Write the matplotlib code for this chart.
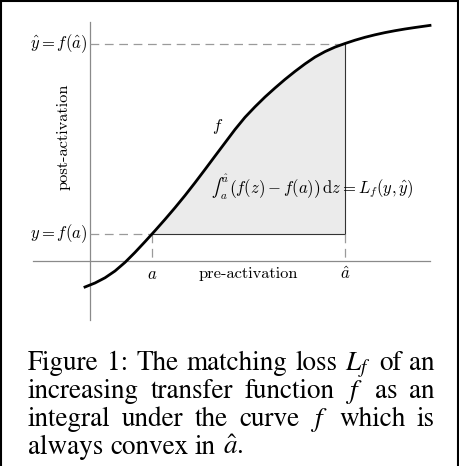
import matplotlib.pyplot as plt
from matplotlib.lines import Line2D

# curve f, origin where the two axes cross
pre = [-5, 5, 15, 25, 35, 45, 55, 62, 65, 75, 85, 95, 105, 115, 125, 135,
       145, 155, 165, 175, 185, 195, 205, 215, 225, 235, 245, 255, 265, 275,
       285, 295, 305, 315, 325, 340]
post = [-26, -22, -16.8, -10, -1.4, 8.6, 19.3, 27, 30.3, 41.6, 53.3, 65.5,
        78.3, 91.5, 104.9, 118.2, 131.5, 143.7, 154.2, 164, 173, 181.6, 189.6,
        197.1, 203.9, 209.4, 213.9, 217.5, 220.8, 223.7, 226.2, 228.4, 230.3,
        232, 233.5, 235.6]
a, a_hat = 62, 255
y_a, y_hat = 27, 217.5
x_axis = [-57, 340]
y_axis = [-59, 239]

caption = [
    ['Figure', '1:', 'The', 'matching', 'loss', '$L_f$', 'of', 'an'],
    ['increasing', 'transfer', 'function', '$f$', 'as', 'an'],
    ['integral', 'under', 'the', 'curve', '$f$', 'which', 'is'],
    ['always', 'convex', 'in', r'$\hat{a}$.'],
]

fig = plt.figure(figsize=(4.6, 4.66), dpi=100)
ax = fig.add_axes([0, 0, 1, 1])
ax.set_xlim(-90, 370)
ax.set_ylim(-205, 261)
ax.axis('off')

# axes of the sketch
ax.plot(x_axis, [0, 0], color='#8a8a8a', lw=0.9)
ax.plot([0, 0], y_axis, color='#8a8a8a', lw=0.9)

# shaded area between f and f(a)
xs = [x for x in pre if a <= x <= a_hat]
ys = [y for x, y in zip(pre, post) if a <= x <= a_hat]
ax.fill_between(xs, ys, y_a, color='#ebebeb', lw=0)
ax.plot([a, a_hat, a_hat], [y_a, y_a, y_hat], color='#333333', lw=0.8)

# dashed guides
dash = dict(color='#9a9a9a', lw=0.9, dashes=(7, 4.5))
ax.plot([0, a_hat], [y_hat, y_hat], **dash)
ax.plot([0, a], [y_a, y_a], **dash)
ax.plot([a, a], [y_a, 0], **dash)
ax.plot([a_hat, a_hat], [y_a, 0], **dash)

ax.plot(pre, post, color='black', lw=2, solid_joinstyle='round')

m = dict(math_fontfamily='cm', fontsize=12)
ax.text(-3, y_hat, r'$\hat{y} = f(\hat{a})$', ha='right', va='center', **m)
ax.text(-3, y_a, r'$y = f(a)$', ha='right', va='center', **m)
ax.text(a, -18, r'$a$', ha='center', va='baseline', **m)
ax.text(a_hat, -18, r'$\hat{a}$', ha='center', va='baseline', **m)
ax.text(128, 134, r'$f$', ha='center', va='center', **m)

# small (text style) integral built from pieces
ax.text(121, 73, '\u222b', family='STIXGeneral', fontsize=13,
        ha='left', va='center')
ax.text(131, 82, r'$\hat{a}$', ha='left', va='center',
        math_fontfamily='cm', fontsize=8)
ax.text(130, 65, r'$a$', ha='left', va='center',
        math_fontfamily='cm', fontsize=8)
ax.text(139, 73, r'$\left(f(z) - f(a)\right)\,\mathrm{d}z = L_f(y, \hat{y})$',
        ha='left', va='center', **m)

ax.text(158, -17, 'pre-activation', family='cmr10', fontsize=11.8,
        ha='center', va='baseline')
ax.text(-26, 124, 'post-activation', family='cmr10', fontsize=11.8,
        rotation=90, ha='center', va='center')

# caption, justified like the LaTeX source
fig.canvas.draw()
r = fig.canvas.get_renderer()
fs = 19.5
cap = dict(family='STIXGeneral', math_fontfamily='stix', fontsize=fs,
           va='baseline', clip_on=False)
left, width = -62, 407
for i, words in enumerate(caption):
    base = 261 - (370 + 28 * i)
    ts = [ax.text(0, base, w, **cap) for w in words]
    ws = [t.get_window_extent(r).width for t in ts]
    if i < len(caption) - 1:
        gap = (width - sum(ws)) / (len(words) - 1)
    else:
        gap = fs * 100 / 72 * 0.25
    x = left
    for t, w in zip(ts, ws):
        t.set_x(x)
        x += w + gap

# frame round the figure (bottom edge is cut off)
for xy in [([0.002, 0.002], [0, 1]), ([0, 1], [0.998, 0.998]),
           ([0.9965, 0.9965], [0, 1])]:
    fig.add_artist(Line2D(xy[0], xy[1], color='black', lw=1.5,
                          transform=fig.transFigure))

fig.savefig('out.png', dpi=100)
